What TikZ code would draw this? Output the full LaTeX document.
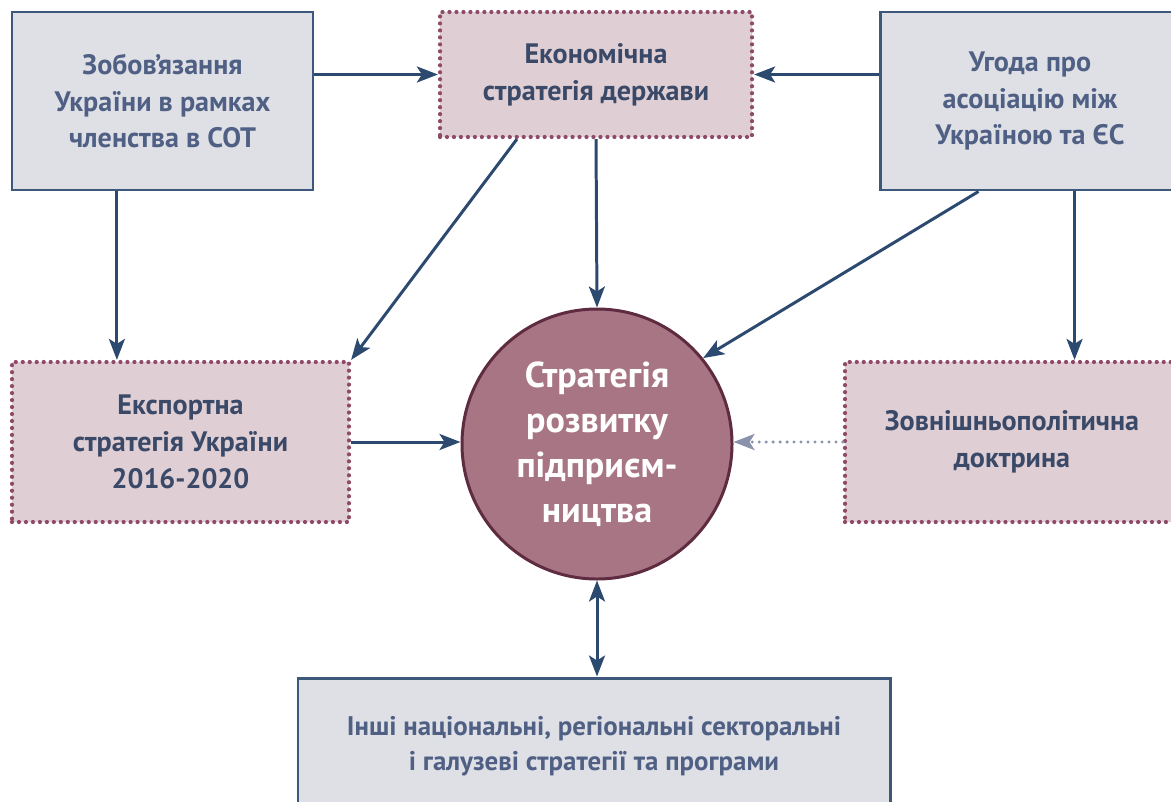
\documentclass[tikz,border=0pt]{standalone}
\usepackage{fontspec}
\setmainfont{PT Sans}
\usetikzlibrary{arrows.meta,calc}
\definecolor{linkc}{RGB}{44,74,112}
\definecolor{greyfill}{RGB}{223,224,230}
\definecolor{greyline}{RGB}{62,88,124}
\definecolor{greytext}{RGB}{79,96,132}
\definecolor{pinkfill}{RGB}{223,207,212}
\definecolor{pinkline}{RGB}{142,74,102}
\definecolor{pinktext}{RGB}{58,73,104}
\definecolor{circfill}{RGB}{168,117,132}
\definecolor{circline}{RGB}{94,43,64}
\definecolor{weakc}{RGB}{138,147,171}
\tikzset{
  ltip/.tip={Stealth[length=0.42cm,width=0.32cm,inset=0.1cm]},
  greybox/.style={draw=greyline,fill=greyfill,line width=1.7pt,text=greytext,
    font=\bfseries\fontsize{16}{21}\selectfont,align=center,inner sep=0pt},
  pinkbox/.style={draw=pinkline,fill=pinkfill,line width=2.4pt,line cap=round,
    dash pattern=on 0pt off 3.97pt,text=pinktext,
    font=\bfseries\fontsize{16}{21}\selectfont,align=center,inner sep=0pt},
  mainc/.style={circle,draw=circline,fill=circfill,line width=1.7pt,text=white,
    font=\bfseries\fontsize{20.5}{25.6}\selectfont,align=center,
    minimum size=5.4cm,inner sep=0pt},
  link/.style={draw=linkc,line width=1.7pt,-ltip},
  weaklink/.style={draw=weakc,line width=1.9pt,line cap=round,dash pattern=on 0pt off 3.97pt,-ltip},
}
\begin{document}
\begin{tikzpicture}
  \useasboundingbox (0,0) rectangle (23.42,-16.02);

  \node[greybox,minimum width=6.02cm,minimum height=3.56cm] (wto) at (3.25,-2.02)
    {Зобов’язання\\України в рамках\\членства в СОТ};
  \node[pinkbox,minimum width=6.24cm,minimum height=2.5cm] (econ) at (11.92,-1.49)
    {Економічна\\стратегія держави};
  \node[greybox,minimum width=6.0cm,minimum height=3.56cm] (euagr) at (20.6,-2.02)
    {Угода про\\асоціацію між\\Україною та ЄС};
  \node[pinkbox,minimum width=6.74cm,minimum height=3.2cm] (export) at (3.61,-8.84)
    {Експортна\\стратегія України\\2016-2020};
  \node[pinkbox,minimum width=6.68cm,minimum height=3.2cm] (foreign) at (20.24,-8.84)
    {Зовнішньополітична\\доктрина};
  \node[mainc] (strat) at (11.94,-8.88)
    {Стратегія\\розвитку\\підприєм-\\ництва};
  \node[greybox,minimum width=11.84cm,minimum height=2.72cm,
    font=\bfseries\fontsize{15.3}{19.8}\selectfont] (other) at (11.88,-14.92)
    {Інші національні, регіональні секторальні\\і галузеві стратегії та програми};

  \coordinate (wtoout) at ($(wto.south west)!0.35!(wto.south east)$);
  \coordinate (econout) at ($(econ.south west)!0.25!(econ.south east)$);
  \coordinate (euout1) at ($(euagr.south west)!0.33!(euagr.south east)$);
  \coordinate (euout2) at ($(euagr.south west)!0.647!(euagr.south east)$);

  \draw[link] (wto.east |- econ.west) -- (econ.west);
  \draw[link] (euagr.west |- econ.east) -- (econ.east);
  \draw[link] (wtoout) -- (wtoout |- export.north);
  \draw[link] (econ.south) -- (strat.north);
  \draw[link] (econout) -- (export.north east);
  \draw[link] (euout1) -- (strat.39);
  \draw[link] (euout2) -- (euout2 |- foreign.north);
  \draw[link] (export.east) -- (export.east -| strat.west);
  \draw[weaklink] (foreign.west) -- (foreign.west -| strat.east);
  \draw[link,ltip-ltip] (strat.south) -- (strat.south |- other.north);
\end{tikzpicture}
\end{document}
